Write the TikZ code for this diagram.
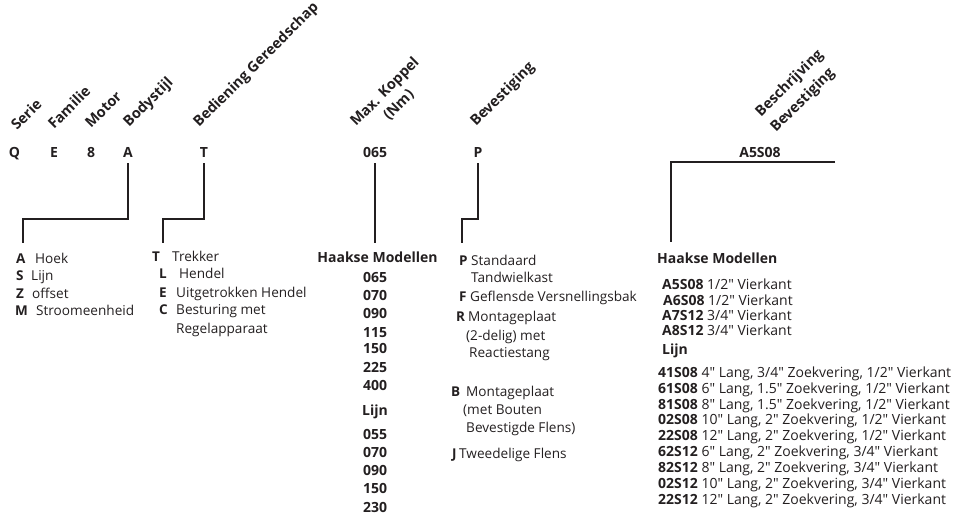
\documentclass[tikz,border=0pt]{standalone}
\usepackage{fontspec}
\setmainfont{Open Sans}[Ligatures=TeXOff]
\definecolor{ink}{HTML}{231F20}
\begin{document}
\begin{tikzpicture}[x=1pt,y=-1pt,
  every node/.style={inner sep=0pt,text=ink},
  hdr/.style={font=\bfseries\fontsize{14.5}{16}\selectfont,rotate=45,anchor=base west},
  code/.style={font=\bfseries\fontsize{14}{16}\selectfont,anchor=base},
  num/.style={font=\bfseries\fontsize{14}{16}\selectfont,anchor=base},
  subhead/.style={font=\bfseries\fontsize{14}{16}\selectfont,anchor=base west},
  let/.style={font=\bfseries\fontsize{13.5}{15}\selectfont,anchor=base west},
  txt/.style={font=\fontsize{13.6}{15}\selectfont,anchor=base west},
  rtxt/.style={font=\fontsize{14}{15}\selectfont,anchor=base west},
  conn/.style={draw=ink,line width=2pt},
  fromcode/.style={conn,shorten <=6pt}]
\useasboundingbox (0,0) rectangle (957,515);

% rotated headers
\node[hdr] (hSerie) at (17,131) {Serie};
\node[hdr] (hFam) at (54,130) {Familie};
\node[hdr] (hMot) at (91,129) {Motor};
\node[hdr] (hBody) at (129,128) {Bodystijl};
\node[hdr] (hBed) at (199,128) {Bediening Gereedschap};
\node[hdr] (hMax) at (356,127) {Max. Koppel};
\node[hdr] (hNm) at (389,121) {(Nm)};
\node[hdr] (hBev) at (476,127) {Bevestiging};
\node[hdr] (hBes) at (761,118) {Beschrijving};
\node[hdr] (hBev2) at (776,133) {Bevestiging};

% code letters
\node[code] (cQ) at (14.5,157) {Q};
\node[code] (cE) at (54,157) {E};
\node[code] (c8) at (91,157) {8};
\node[code] (cA) at (128,157) {A};
\node[code] (cT) at (204,157) {T};
\node[code] (c065) at (375,157) {065};
\node[code] (cP) at (478,157) {P};
\node[code] (cA5) at (760,157) {A5S08};

% connectors
\coordinate (kA) at (23,219);  \coordinate (tA) at (23,243);
\coordinate (kT) at (163,219); \coordinate (tT) at (163,243);
\coordinate (t065) at (375,243);
\coordinate (kP) at (462,219); \coordinate (tP) at (462,243);
\coordinate (kR) at (835,162); \coordinate (kL) at (671,162); \coordinate (tR) at (671,242);
\draw[fromcode] (cA.south) |- (kA) -- (tA);
\draw[fromcode] (cT.south) |- (kT) -- (tT);
\draw[fromcode] (c065.south) -- (t065);
\draw[fromcode] (cP.south) |- (kP) -- (tP);
\draw[conn] (kR) -- (kL) -- (tR);

% Bodystijl list
\node[let] (lA) at (16,263) {A};   \node[txt] (xA) at (35,263) {Hoek};
\node[let] (lS) at (16,280) {S};   \node[txt] (xS) at (31,280) {Lijn};
\node[let] (lZ) at (16,298) {Z};   \node[txt] (xZ) at (32,298) {offset};
\node[let] (lM) at (15,315) {M};   \node[txt] (xM) at (36,315) {Stroomeenheid};

% Bediening list
\node[let] (lT) at (152,261) {T};  \node[txt] (xT) at (172,261) {Trekker};
\node[let] (lL) at (159,278) {L};  \node[txt] (xL) at (179,278) {Hendel};
\node[let] (lE) at (159,297) {E};  \node[txt] (xE) at (176,297) {Uitgetrokken Hendel};
\node[let] (lC) at (159,314) {C};  \node[txt] (xC) at (176,314) {Besturing met};
\node[txt] (xC2) at (176,333) {Regelapparaat};

% Koppel list
\node[num] (mH) at (377.5,262) {Haakse Modellen};
\node[num] (m1) at (375,282) {065};
\node[num] (m2) at (375,300) {070};
\node[num] (m3) at (375,318) {090};
\node[num] (m4) at (375,337) {115};
\node[num] (m5) at (375,353) {150};
\node[num] (m6) at (375,372) {225};
\node[num] (m7) at (375,390) {400};
\node[num] (mL) at (375,415) {Lijn};
\node[num] (n1) at (375,439) {055};
\node[num] (n2) at (375,457) {070};
\node[num] (n3) at (375,475) {090};
\node[num] (n4) at (375,493) {150};
\node[num] (n5) at (375,512) {230};

% Bevestiging list
\node[let] (bP) at (459,265.5) {P}; \node[txt] (yP) at (471,265.5) {Standaard};
\node[txt] (yP2) at (471,282.5) {Tandwielkast};
\node[let] (bF) at (459,301.5) {F}; \node[txt] (yF) at (470,301.5) {Geflensde Versnellingsbak};
\node[let] (bR) at (456,321.5) {R}; \node[txt] (yR) at (468,321.5) {Montageplaat};
\node[txt] (yR2) at (466,340.5) {(2-delig) met};
\node[txt] (yR3) at (469,357.5) {Reactiestang};
\node[let] (bB) at (451,396.5) {B}; \node[txt] (yB) at (466,396.5) {Montageplaat};
\node[txt] (yB2) at (463,414.5) {(met Bouten};
\node[txt] (yB3) at (466,432.5) {Bevestigde Flens)};
\node[let] (bJ) at (452,458.5) {J}; \node[txt] (yJ) at (459,458.5) {Tweedelige Flens};

% Beschrijving list
\node[subhead] (rH) at (657,263) {Haakse Modellen};
\node[rtxt] (r1) at (662,289.5) {\textbf{A5S08} 1/2" Vierkant};
\node[rtxt] (r2) at (663,305.5) {\textbf{A6S08} 1/2" Vierkant};
\node[rtxt] (r3) at (662,320.5) {\textbf{A7S12} 3/4" Vierkant};
\node[rtxt] (r4) at (662,335.5) {\textbf{A8S12} 3/4" Vierkant};
\node[subhead] (rL) at (662,354) {Lijn};
\node[rtxt] (s1) at (658,377.5) {\textbf{41S08} 4" Lang, 3/4" Zoekvering, 1/2" Vierkant};
\node[rtxt] (s2) at (658,393.3) {\textbf{61S08} 6" Lang, 1.5" Zoekvering, 1/2" Vierkant};
\node[rtxt] (s3) at (658,409.1) {\textbf{81S08} 8" Lang, 1.5" Zoekvering, 1/2" Vierkant};
\node[rtxt] (s4) at (658,424.9) {\textbf{02S08} 10" Lang, 2" Zoekvering, 1/2" Vierkant};
\node[rtxt] (s5) at (658,440.7) {\textbf{22S08} 12" Lang, 2" Zoekvering, 1/2" Vierkant};
\node[rtxt] (s6) at (658,456.5) {\textbf{62S12} 6" Lang, 2" Zoekvering, 3/4" Vierkant};
\node[rtxt] (s7) at (658,472.3) {\textbf{82S12} 8" Lang, 2" Zoekvering, 3/4" Vierkant};
\node[rtxt] (s8) at (658,488.1) {\textbf{02S12} 10" Lang, 2" Zoekvering, 3/4" Vierkant};
\node[rtxt] (s9) at (658,504) {\textbf{22S12} 12" Lang, 2" Zoekvering, 3/4" Vierkant};
\end{tikzpicture}
\end{document}
